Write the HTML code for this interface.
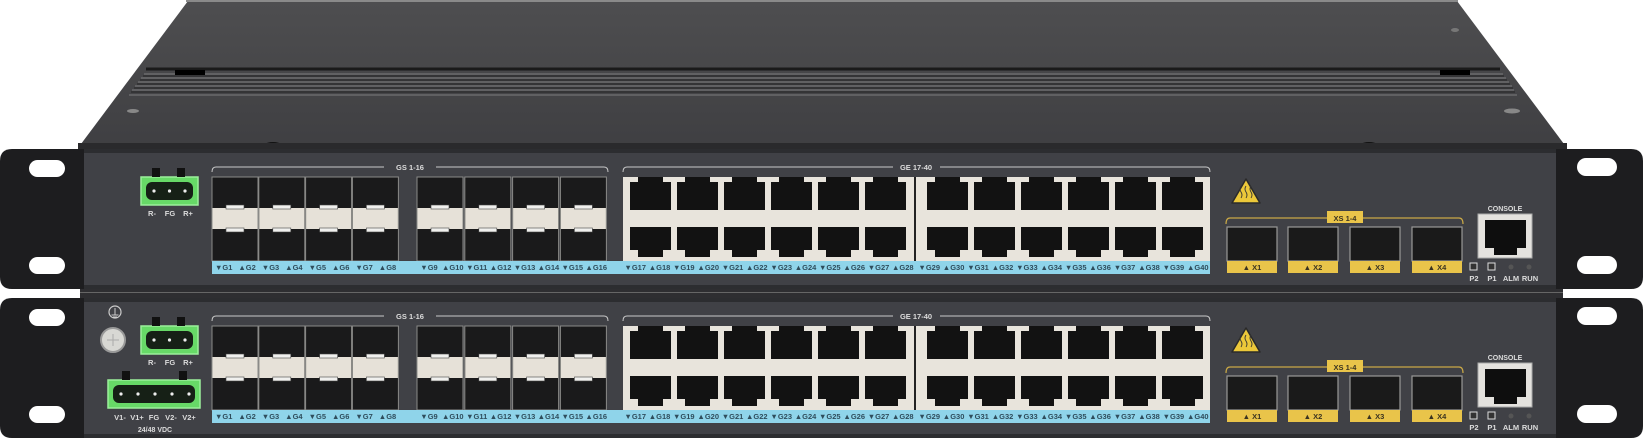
<!DOCTYPE html>
<html><head><meta charset="utf-8"><style>
html,body{margin:0;padding:0;background:#fff;}
svg{display:block;}
text{font-family:"Liberation Sans",sans-serif;font-weight:bold;}
.bl{font-size:7.5px;fill:#2f4d5c;text-anchor:middle;}
.wl{font-size:7.5px;fill:#dcdcdc;text-anchor:middle;}
.yl{font-size:7.5px;fill:#3a3320;text-anchor:middle;}
</style></head><body>
<svg width="1646" height="445" viewBox="0 0 1646 445" xmlns="http://www.w3.org/2000/svg">
<defs>
<linearGradient id="lid" x1="0" y1="0" x2="0" y2="1"><stop offset="0" stop-color="#4e4e50"/><stop offset="1" stop-color="#3f3f42"/></linearGradient>
<g id="sfpA">
 <rect x="0" y="0" width="46" height="84" fill="#1a1a1b" stroke="#8a8a88" stroke-width="1"/>
 <rect x="0.5" y="31" width="45" height="21" fill="#e6e1d8"/>
 <rect x="14" y="28" width="18" height="4" fill="#f0f0ee" stroke="#444" stroke-width="0.6"/>
 <rect x="14" y="51" width="18" height="4" fill="#f0f0ee" stroke="#444" stroke-width="0.6"/>
</g>
<g id="rjT"><rect x="8" y="0" width="25" height="7" fill="#121212"/><rect x="0" y="5" width="41" height="28" fill="#121212"/></g>
<g id="rjB"><rect x="0" y="50" width="41" height="23" fill="#121212"/><rect x="8" y="72" width="25" height="8" fill="#121212"/></g>
<g id="xsfp"><rect x="0" y="0" width="50" height="34" fill="#1a1a1a" stroke="#9a9a98" stroke-width="1.2"/><rect x="0" y="34" width="50" height="12" fill="#e9c44a"/></g>
<g id="ear">
 <path d="M84,0 L12,0 Q0,0 0,12 L0,128 Q0,140 12,140 L84,140 Z" fill="#1d1d1f"/>
 <rect x="29" y="11" width="36" height="17" rx="8.5" fill="#fff"/>
 <rect x="29" y="108" width="36" height="17" rx="8.5" fill="#fff"/>
</g>
<g id="earR">
 <path d="M1556,0 L1631,0 Q1643,0 1643,12 L1643,128 Q1643,140 1631,140 L1556,140 Z" fill="#1d1d1f"/>
 <rect x="1577" y="9" width="40" height="18" rx="9" fill="#fff"/>
 <rect x="1577" y="107" width="40" height="18" rx="9" fill="#fff"/>
</g>
<g id="term3">
 <rect x="0" y="0" width="57" height="28" fill="#67d967" stroke="#9cf09c" stroke-width="1.5"/>
 <rect x="5" y="5" width="47" height="18" rx="6" fill="#162016"/>
 <circle cx="13" cy="14" r="1.6" fill="#eee"/><circle cx="28.5" cy="14" r="1.6" fill="#eee"/><circle cx="44" cy="14" r="1.6" fill="#eee"/>
 <rect x="11" y="-9" width="8" height="9" fill="#111"/><rect x="36" y="-9" width="8" height="9" fill="#111"/>
</g>
<g id="unit">
 <rect x="78" y="0" width="1485" height="140" fill="#2c2d30"/>
 <rect x="84" y="4" width="1472" height="132" fill="#404146"/>
 <use href="#ear"/><use href="#earR"/>
 <!-- headers -->
 <path d="M212,23 Q212,18 216,18 L384,18 M436,18 L604,18 Q608,18 608,23" stroke="#c9c9c9" stroke-width="1" fill="none"/>
 <path d="M623,23 Q623,18 627,18 L893,18 M940,18 L1206,18 Q1210,18 1210,23" stroke="#c9c9c9" stroke-width="1" fill="none"/>
 <!-- sfp blocks -->
 <use href="#sfpA" x="212" y="28"/><use href="#sfpA" x="258.8" y="28"/><use href="#sfpA" x="305.6" y="28"/><use href="#sfpA" x="352.4" y="28"/>
 <use href="#sfpA" x="417" y="28"/><use href="#sfpA" x="464.8" y="28"/><use href="#sfpA" x="512.6" y="28"/><use href="#sfpA" x="560.4" y="28"/>
 <!-- rj block -->
 <rect x="623" y="28" width="587" height="84" fill="#e8e4dc"/>
 <rect x="914" y="28" width="2" height="84" fill="#222"/>
 <g transform="translate(0,28)">
 <use href="#rjT" x="630"/><use href="#rjT" x="677"/><use href="#rjT" x="724"/><use href="#rjT" x="771"/><use href="#rjT" x="818"/><use href="#rjT" x="865"/>
 <use href="#rjT" x="927"/><use href="#rjT" x="974"/><use href="#rjT" x="1021"/><use href="#rjT" x="1068"/><use href="#rjT" x="1115"/><use href="#rjT" x="1162"/>
 <use href="#rjB" x="630"/><use href="#rjB" x="677"/><use href="#rjB" x="724"/><use href="#rjB" x="771"/><use href="#rjB" x="818"/><use href="#rjB" x="865"/>
 <use href="#rjB" x="927"/><use href="#rjB" x="974"/><use href="#rjB" x="1021"/><use href="#rjB" x="1068"/><use href="#rjB" x="1115"/><use href="#rjB" x="1162"/>
 </g>
 <!-- blue strip -->
 <rect x="212" y="112" width="998" height="13" fill="#8fd4ea"/>
 <!-- warning -->
 <path d="M1246,30 L1260,54 L1232,54 Z" fill="#ecc83a" stroke="#2a2a2a" stroke-width="1.5" stroke-linejoin="round"/>
 <path d="M1241,49 q2,-3 0,-6 t0,-6 M1246,49 q2,-3 0,-6 t0,-6 M1251,49 q2,-3 0,-6 t0,-6" stroke="#333" stroke-width="0.9" fill="none"/>
 <!-- xs bracket -->
 <path d="M1226,75 Q1226,69 1230,69 L1459,69 Q1463,69 1463,75" stroke="#c9a846" stroke-width="1.2" fill="none"/>
 <rect x="1327" y="62" width="36" height="12" fill="#e9c44a"/>
 <use href="#xsfp" x="1227" y="78"/><use href="#xsfp" x="1288" y="78"/><use href="#xsfp" x="1350" y="78"/><use href="#xsfp" x="1412" y="78"/>
 <!-- console -->
 <rect x="1478" y="65" width="54" height="44" fill="#e4e2de" stroke="#aaa" stroke-width="1"/>
 <rect x="1485" y="71" width="41" height="28" fill="#0e0e0e"/>
 <rect x="1494" y="98" width="23" height="8" fill="#0e0e0e"/>
 <rect x="1470" y="114" width="7" height="7" fill="#333" stroke="#ddd" stroke-width="1"/>
 <rect x="1488" y="114" width="7" height="7" fill="#333" stroke="#ddd" stroke-width="1"/>
 <circle cx="1511" cy="118" r="2.5" fill="#555"/><circle cx="1529" cy="118" r="2.5" fill="#555"/>
</g>
</defs>

<!-- lid -->
<path d="M188,1 L1457,1 L1567,148 L78,148 Z" fill="url(#lid)"/>
<rect x="186" y="0" width="1272" height="2" fill="#8a8a8a"/>
<g fill="none" stroke-width="1.5">
 <path d="M146,69 L1500,69" stroke="#1a1a1a" stroke-width="3"/>
 <path d="M144,74 L1503,74 M141,78 L1506,78 M138,82 L1509,82 M135,86 L1512,86 M132,90 L1514,90 M129,95 L1517,95" stroke="#6a6a6c"/>
 <path d="M143,76 L1504,76 M140,80 L1507,80 M137,84 L1510,84 M134,88 L1513,88 M131,92 L1515,92" stroke="#2e2e30"/>
</g>
<rect x="175" y="70" width="30" height="5" fill="#000"/>
<rect x="1440" y="70" width="30" height="5" fill="#000"/>
<ellipse cx="133" cy="111" rx="6" ry="2" fill="#888"/>
<ellipse cx="1512" cy="111" rx="8" ry="2.5" fill="#888"/>
<ellipse cx="273" cy="144" rx="7" ry="2" fill="#111"/>
<ellipse cx="1369" cy="144" rx="7" ry="2" fill="#111"/>
<ellipse cx="1455" cy="30" rx="4" ry="2" fill="#777"/>
<rect x="78" y="143" width="1489" height="6" fill="#2a2a2c"/>

<!-- unit 1 -->
<use href="#unit" y="149"/>
<!-- unit 2 -->
<rect x="80" y="289" width="1483" height="9" fill="#2e2e31"/>
<rect x="80" y="292" width="1483" height="1" fill="#666"/>
<use href="#unit" y="298"/>

<!-- unit1 terminal -->
<use href="#term3" x="141" y="177"/>
<text class="wl" x="152" y="216">R-</text><text class="wl" x="170" y="216">FG</text><text class="wl" x="188" y="216">R+</text>

<!-- unit2 extras -->
<circle cx="115" cy="312" r="6" fill="none" stroke="#ccc" stroke-width="1.2"/>
<path d="M115,308 L115,315 M111.5,315 L118.5,315 M113,317 L117,317" stroke="#ccc" stroke-width="1"/>
<circle cx="113" cy="340" r="12" fill="#d8d8d4" stroke="#999" stroke-width="2"/>
<path d="M107,340 L119,340 M113,334 L113,346" stroke="#aaa" stroke-width="1"/>
<use href="#term3" x="141" y="326"/>
<text class="wl" x="152" y="365">R-</text><text class="wl" x="170" y="365">FG</text><text class="wl" x="188" y="365">R+</text>
<rect x="108" y="380" width="92" height="28" fill="#67d967" stroke="#9cf09c" stroke-width="1.5"/>
<rect x="113" y="385" width="82" height="18" rx="6" fill="#162016"/>
<circle cx="121" cy="394" r="1.6" fill="#eee"/><circle cx="138" cy="394" r="1.6" fill="#eee"/><circle cx="155" cy="394" r="1.6" fill="#eee"/><circle cx="172" cy="394" r="1.6" fill="#eee"/><circle cx="189" cy="394" r="1.6" fill="#eee"/>
<rect x="122" y="371" width="8" height="9" fill="#111"/><rect x="179" y="371" width="8" height="9" fill="#111"/>
<text class="wl" x="120" y="420">V1-</text><text class="wl" x="137" y="420">V1+</text><text class="wl" x="154" y="420">FG</text><text class="wl" x="171" y="420">V2-</text><text class="wl" x="189" y="420">V2+</text>
<text class="wl" x="155" y="432" style="font-size:7px">24/48 VDC</text>

<!-- unit1 texts -->
<text class="wl" x="410" y="170">GS 1-16</text>
<text class="wl" x="916" y="170">GE 17-40</text>
<text class="yl" x="1345" y="221">XS 1-4</text>
<text class="wl" x="1505" y="211" style="font-size:7px">CONSOLE</text>
<text class="wl" x="1474" y="281">P2</text><text class="wl" x="1492" y="281">P1</text><text class="wl" x="1511" y="281">ALM</text><text class="wl" x="1530" y="281">RUN</text>
<text class="yl" x="1252" y="270">▲ X1</text><text class="yl" x="1313" y="270">▲ X2</text><text class="yl" x="1375" y="270">▲ X3</text><text class="yl" x="1437" y="270">▲ X4</text>
<g class="bl">
<text class="bl" x="223.7" y="270">▼G1</text><text class="bl" x="247.1" y="270">▲G2</text><text class="bl" x="270.5" y="270">▼G3</text><text class="bl" x="293.9" y="270">▲G4</text><text class="bl" x="317.3" y="270">▼G5</text><text class="bl" x="340.7" y="270">▲G6</text><text class="bl" x="364.1" y="270">▼G7</text><text class="bl" x="387.5" y="270">▲G8</text>
<text class="bl" x="429" y="270">▼G9</text><text class="bl" x="452.8" y="270">▲G10</text><text class="bl" x="476.7" y="270">▼G11</text><text class="bl" x="500.6" y="270">▲G12</text><text class="bl" x="524.5" y="270">▼G13</text><text class="bl" x="548.4" y="270">▲G14</text><text class="bl" x="572.3" y="270">▼G15</text><text class="bl" x="596.2" y="270">▲G16</text>
<text class="bl" x="635.2" y="270">▼G17</text><text class="bl" x="659.5" y="270">▲G18</text><text class="bl" x="683.8" y="270">▼G19</text><text class="bl" x="708.2" y="270">▲G20</text><text class="bl" x="732.5" y="270">▼G21</text><text class="bl" x="756.8" y="270">▲G22</text><text class="bl" x="781.2" y="270">▼G23</text><text class="bl" x="805.5" y="270">▲G24</text><text class="bl" x="829.8" y="270">▼G25</text><text class="bl" x="854.2" y="270">▲G26</text><text class="bl" x="878.5" y="270">▼G27</text><text class="bl" x="902.8" y="270">▲G28</text>
<text class="bl" x="929.2" y="270">▼G29</text><text class="bl" x="953.6" y="270">▲G30</text><text class="bl" x="978" y="270">▼G31</text><text class="bl" x="1002.5" y="270">▲G32</text><text class="bl" x="1026.9" y="270">▼G33</text><text class="bl" x="1051.3" y="270">▲G34</text><text class="bl" x="1075.7" y="270">▼G35</text><text class="bl" x="1100.1" y="270">▲G36</text><text class="bl" x="1124.5" y="270">▼G37</text><text class="bl" x="1149" y="270">▲G38</text><text class="bl" x="1173.4" y="270">▼G39</text><text class="bl" x="1197.8" y="270">▲G40</text>
</g>

<!-- unit2 texts -->
<text class="wl" x="410" y="319">GS 1-16</text>
<text class="wl" x="916" y="319">GE 17-40</text>
<text class="yl" x="1345" y="370">XS 1-4</text>
<text class="wl" x="1505" y="360" style="font-size:7px">CONSOLE</text>
<text class="wl" x="1474" y="430">P2</text><text class="wl" x="1492" y="430">P1</text><text class="wl" x="1511" y="430">ALM</text><text class="wl" x="1530" y="430">RUN</text>
<text class="yl" x="1252" y="419">▲ X1</text><text class="yl" x="1313" y="419">▲ X2</text><text class="yl" x="1375" y="419">▲ X3</text><text class="yl" x="1437" y="419">▲ X4</text>
<text class="bl" x="223.7" y="419">▼G1</text><text class="bl" x="247.1" y="419">▲G2</text><text class="bl" x="270.5" y="419">▼G3</text><text class="bl" x="293.9" y="419">▲G4</text><text class="bl" x="317.3" y="419">▼G5</text><text class="bl" x="340.7" y="419">▲G6</text><text class="bl" x="364.1" y="419">▼G7</text><text class="bl" x="387.5" y="419">▲G8</text>
<text class="bl" x="429" y="419">▼G9</text><text class="bl" x="452.8" y="419">▲G10</text><text class="bl" x="476.7" y="419">▼G11</text><text class="bl" x="500.6" y="419">▲G12</text><text class="bl" x="524.5" y="419">▼G13</text><text class="bl" x="548.4" y="419">▲G14</text><text class="bl" x="572.3" y="419">▼G15</text><text class="bl" x="596.2" y="419">▲G16</text>
<text class="bl" x="635.2" y="419">▼G17</text><text class="bl" x="659.5" y="419">▲G18</text><text class="bl" x="683.8" y="419">▼G19</text><text class="bl" x="708.2" y="419">▲G20</text><text class="bl" x="732.5" y="419">▼G21</text><text class="bl" x="756.8" y="419">▲G22</text><text class="bl" x="781.2" y="419">▼G23</text><text class="bl" x="805.5" y="419">▲G24</text><text class="bl" x="829.8" y="419">▼G25</text><text class="bl" x="854.2" y="419">▲G26</text><text class="bl" x="878.5" y="419">▼G27</text><text class="bl" x="902.8" y="419">▲G28</text>
<text class="bl" x="929.2" y="419">▼G29</text><text class="bl" x="953.6" y="419">▲G30</text><text class="bl" x="978" y="419">▼G31</text><text class="bl" x="1002.5" y="419">▲G32</text><text class="bl" x="1026.9" y="419">▼G33</text><text class="bl" x="1051.3" y="419">▲G34</text><text class="bl" x="1075.7" y="419">▼G35</text><text class="bl" x="1100.1" y="419">▲G36</text><text class="bl" x="1124.5" y="419">▼G37</text><text class="bl" x="1149" y="419">▲G38</text><text class="bl" x="1173.4" y="419">▼G39</text><text class="bl" x="1197.8" y="419">▲G40</text>
</svg>
</body></html>
